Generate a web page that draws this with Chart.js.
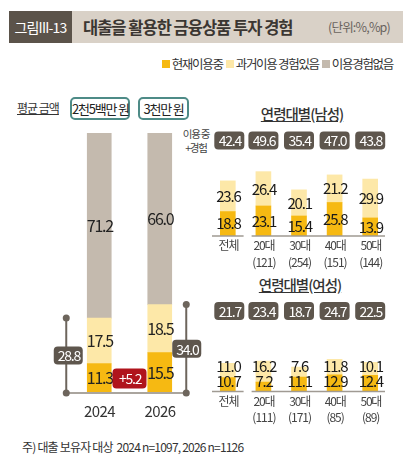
<!DOCTYPE html>
<html>
<head>
<meta charset="utf-8">
<script src="https://cdn.jsdelivr.net/npm/chart.js@4"></script>
<style>
  body { margin: 0; width: 411px; height: 467px; position: relative; background: #fff; overflow: hidden;
         font-family: "Noto Sans CJK KR", "Noto Sans", sans-serif; color: #333; }
  .abs { position: absolute; white-space: nowrap; }
  canvas { position: absolute; }
  .titlebar { left: 9px; top: 11px; width: 394px; height: 32px; background: #d9d1c7; }
  .fig { left: 0; top: 0; width: 63px; height: 32px; background: #5b534a; color: #fff; font-size: 14px;
         line-height: 32px; text-align: center; letter-spacing: -0.8px; }
  .ttl { left: 74px; top: 0; line-height: 32px; font-size: 16.5px; font-weight: bold; color: #3b3632; letter-spacing: -1px; }
  .unit { left: 319px; top: 0; line-height: 32px; font-size: 12.5px; color: #6a645e; letter-spacing: -0.8px; }
  .legend { right: 18px; top: 54px; font-size: 12.5px; letter-spacing: -1.3px; display: flex; align-items: center; color: #333; }
  .legend i { display: inline-block; width: 8px; height: 8px; margin: 0 2px 0 3px; }
  .avg { left: 17px; top: 99px; font-size: 12px; text-decoration: underline; letter-spacing: -1px; }
  .amt { top: 97px; height: 19px; line-height: 19px; border: 2px solid #4e8b87; border-radius: 5px; font-size: 13px;
         letter-spacing: -1.2px; text-align: center; color: #222; }
  .sub { font-size: 14.5px; font-weight: 500; text-decoration: underline; letter-spacing: -1px; width: 150px; text-align: center; color: #333; }
  .use { left: 180px; top: 127px; width: 32px; font-size: 10.5px; line-height: 14px; text-align: center; letter-spacing: -1.2px; color: #444; }
  .foot { left: 22px; top: 438px; font-size: 12px; letter-spacing: -0.8px; color: #333; }
</style>
</head>
<body>
<div class="abs titlebar">
  <div class="abs fig">그림III-13</div>
  <div class="abs ttl">대출을 활용한 금융상품 투자 경험</div>
  <div class="abs unit">(단위:%,%p)</div>
</div>
<div class="abs legend">
  <i style="background:#f6b912"></i>현재이용중
  <i style="background:#fde8a8"></i>과거이용 경험있음
  <i style="background:#c4baae"></i>이용경험없음
</div>
<div class="abs avg">평균 금액</div>
<div class="abs amt" style="left:70px;width:56px">2천5백만 원</div>
<div class="abs amt" style="left:138px;width:47px">3천만 원</div>
<div class="abs sub" style="left:227px;top:103px">연령대별(남성)</div>
<div class="abs sub" style="left:225px;top:274px">연령대별(여성)</div>
<div class="abs use">이용 중<br>+경험</div>
<div class="abs foot">주) 대출 보유자 대상&nbsp; 2024 n=1097, 2026 n=1126</div>

<canvas id="leftChart" width="165" height="300" style="left:40px;top:125px"></canvas>
<canvas id="maleChart" width="221" height="142" style="left:190px;top:128px"></canvas>
<canvas id="femaleChart" width="221" height="134" style="left:190px;top:296px"></canvas>

<script>
// data
const years = ['2024', '2026'];
const currentUse = [11.3, 15.5];
const pastUse = [17.5, 18.5];
const neverUse = [71.2, 66.0];
const usedTotal = [28.8, 34.0];

const ageLabels = ['전체', '20대', '30대', '40대', '50대'];
const maleN = ['', '(121)', '(254)', '(151)', '(144)'];
const maleCurrent = [18.8, 23.1, 15.4, 25.8, 13.9];
const malePast = [23.6, 26.4, 20.1, 21.2, 29.9];
const maleTotal = [42.4, 49.6, 35.4, 47.0, 43.8];

const femaleN = ['', '(111)', '(171)', '(85)', '(89)'];
const femaleCurrent = [10.7, 7.2, 11.1, 12.9, 12.4];
const femalePast = [11.0, 16.2, 7.6, 11.8, 10.1];
const femaleTotal = [21.7, 23.4, 18.7, 24.7, 22.5];

const COLORS = { current: '#f6b912', past: '#fde8a8', never: '#c4baae' };
const FONT = '"Noto Sans CJK KR", "Noto Sans", sans-serif';
const DARK = '#5e564d';

function txt(ctx, s, x, y, size, color, spacing = -1.2) {
  ctx.save();
  ctx.font = size + 'px ' + FONT;
  ctx.fillStyle = color;
  ctx.textAlign = 'center';
  ctx.textBaseline = 'middle';
  ctx.letterSpacing = spacing + 'px';
  ctx.fillText(s, x - spacing / 2, y);
  ctx.restore();
}

function badge(ctx, s, cx, cy, w, h, bg, size = 14) {
  ctx.save();
  ctx.fillStyle = bg;
  ctx.beginPath();
  ctx.roundRect(cx - w / 2, cy - h / 2, w, h, 4);
  ctx.fill();
  ctx.restore();
  txt(ctx, s, cx, cy + 0.5, size, '#fff', -1.2);
}

function baseOptions(pad, maxY, thickness) {
  return {
    responsive: false,
    animation: false,
    layout: { padding: pad },
    datasets: { bar: { barThickness: thickness, borderWidth: 0 } },
    plugins: { legend: { display: false }, tooltip: { enabled: false } },
    scales: {
      x: { stacked: true, display: false },
      y: { stacked: true, display: false, min: 0, max: maxY }
    }
  };
}

// left: 2024 vs 2026
const leftPlugin = {
  id: 'leftDeco',
  afterDatasetsDraw(chart) {
    const ctx = chart.ctx, area = chart.chartArea, y = chart.scales.y;
    const base = y.getPixelForValue(0);
    ctx.save();
    ctx.strokeStyle = '#aaa59e';
    ctx.lineWidth = 2;
    ctx.beginPath();
    ctx.moveTo(area.left - 4, base);
    ctx.lineTo(area.right - 3, base);
    ctx.stroke();
    ctx.restore();

    chart.data.datasets.forEach((ds, di) => {
      chart.getDatasetMeta(di).data.forEach((bar, i) => {
        txt(ctx, ds.data[i].toFixed(1), bar.x, (bar.y + bar.base) / 2, 16, '#222');
      });
    });

    const bars = chart.getDatasetMeta(0).data;
    const bx = [bars[0].x - 33, bars[1].x + 26.5];
    usedTotal.forEach((t, i) => {
      const top = y.getPixelForValue(t);
      ctx.save();
      ctx.strokeStyle = '#6d655c';
      ctx.fillStyle = '#6d655c';
      ctx.lineWidth = 2;
      ctx.beginPath();
      ctx.moveTo(bx[i], top);
      ctx.lineTo(bx[i], base);
      ctx.stroke();
      [top, base].forEach(py => {
        ctx.beginPath();
        ctx.arc(bx[i], py, 3.5, 0, Math.PI * 2);
        ctx.fill();
      });
      ctx.restore();
      badge(ctx, t.toFixed(1), bx[i] + (i ? 0.5 : 2), (top + base) / 2, 29, 18, DARK, 14);
    });

    const diff = (usedTotal[1] - usedTotal[0]).toFixed(1);
    badge(ctx, '+' + diff, (bars[0].x + bars[1].x) / 2, y.getPixelForValue(5.6), 34, 20, '#b0141c', 14);

    years.forEach((s, i) => txt(ctx, s, bars[i].x, base + 18, 15, '#333', -0.6));
  }
};

new Chart(document.getElementById('leftChart'), {
  type: 'bar',
  data: {
    labels: years,
    datasets: [
      { label: '현재이용중', data: currentUse, backgroundColor: COLORS.current },
      { label: '과거이용 경험있음', data: pastUse, backgroundColor: COLORS.past },
      { label: '이용경험없음', data: neverUse, backgroundColor: COLORS.never }
    ]
  },
  options: baseOptions({ left: 29, right: 15, top: 8, bottom: 32 }, 100, 24),
  plugins: [leftPlugin]
});

// right: by age group
function agePlugin(totals, nLabels, boxOffset, stackedText) {
  return {
    id: 'ageDeco',
    afterDatasetsDraw(chart) {
      const ctx = chart.ctx, area = chart.chartArea, y = chart.scales.y;
      const base = y.getPixelForValue(0);
      const bars = chart.getDatasetMeta(0).data;
      const half = (bars[1].x - bars[0].x) / 2;

      ctx.save();
      ctx.strokeStyle = '#a09a93';
      ctx.lineWidth = 1.5;
      ctx.beginPath();
      ctx.moveTo(bars[0].x - half + 2, base);
      ctx.lineTo(bars[0].x + half - 2, base);
      ctx.moveTo(bars[1].x - half + 6, base);
      ctx.lineTo(bars[4].x + half - 3, base);
      ctx.stroke();
      ctx.restore();

      chart.data.datasets.forEach((ds, di) => {
        chart.getDatasetMeta(di).data.forEach((bar, i) => {
          const s = ds.data[i].toFixed(1);
          if (stackedText) {
            txt(ctx, s, bar.x, di === 0 ? base - 10 : base - 25, 15, '#1a1a1a');
          } else {
            txt(ctx, s, bar.x, (bar.y + bar.base) / 2, 15, '#1a1a1a');
          }
        });
      });

      totals.forEach((t, i) => badge(ctx, t.toFixed(1), bars[i].x + (i === 0 ? 1.5 : 0), area.top - boxOffset, 30, 18, DARK, 14));

      ageLabels.forEach((s, i) => {
        txt(ctx, s, bars[i].x, base + 9.5, 12, '#444', -1.2);
        if (nLabels[i]) txt(ctx, nLabels[i], bars[i].x, base + 26, 12, '#444', -1);
      });
    }
  };
}

new Chart(document.getElementById('maleChart'), {
  type: 'bar',
  data: {
    labels: ageLabels,
    datasets: [
      { label: '현재이용중', data: maleCurrent, backgroundColor: COLORS.current },
      { label: '과거이용 경험있음', data: malePast, backgroundColor: COLORS.past }
    ]
  },
  options: baseOptions({ left: 20, right: 23, top: 43, bottom: 34 }, 50, 15),
  plugins: [agePlugin(maleTotal, maleN, 30.5, false)]
});

new Chart(document.getElementById('femaleChart'), {
  type: 'bar',
  data: {
    labels: ageLabels,
    datasets: [
      { label: '현재이용중', data: femaleCurrent, backgroundColor: COLORS.current },
      { label: '과거이용 경험있음', data: femalePast, backgroundColor: COLORS.past }
    ]
  },
  options: baseOptions({ left: 20, right: 23, top: 30.5, bottom: 38.5 }, 50, 15),
  plugins: [agePlugin(femaleTotal, femaleN, 15.5, true)]
});
</script>
</body>
</html>
